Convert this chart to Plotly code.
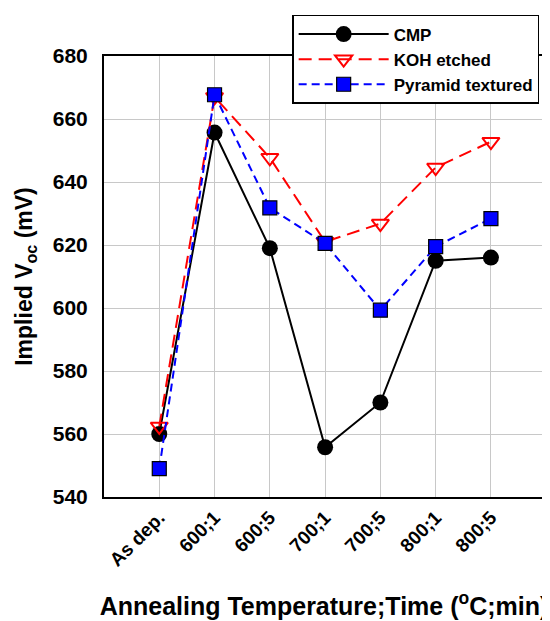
import plotly.graph_objects as go

categories = ["As dep.", "600;1", "600;5", "700;1", "700;5", "800;1", "800;5"]
cmp_vals = [560, 655.7, 619, 555.8, 570, 615, 616]
koh_vals = [562.4, 667, 647.7, 621, 626.8, 644.6, 652.8]
pyr_vals = [549, 667.7, 631.8, 620.5, 599.3, 619.5, 628.4]
y_ticks = [540, 560, 580, 600, 620, 640, 660, 680]

xs = list(range(len(categories)))
FONT = "Liberation Sans, Arial, sans-serif"

fig = go.Figure()
fig.add_trace(go.Scatter(
    x=xs, y=cmp_vals, name="CMP", mode="lines+markers",
    line=dict(color="black", width=2),
    marker=dict(symbol="circle", size=16, color="black"),
))
fig.add_trace(go.Scatter(
    x=xs, y=koh_vals, name="KOH etched", mode="lines+markers",
    line=dict(color="#ff0000", width=2, dash="13px,7px"),
    marker=dict(symbol="triangle-down-open", size=15, color="#ff0000",
                line=dict(width=2, color="#ff0000")),
))
fig.add_trace(go.Scatter(
    x=xs, y=pyr_vals, name="Pyramid textured", mode="lines+markers",
    line=dict(color="#0000ff", width=2, dash="8px,5px"),
    marker=dict(symbol="square", size=14, color="#0000ff",
                line=dict(width=1.2, color="black")),
))

fig.update_layout(
    width=550, height=621,
    margin=dict(l=96, r=14, t=48, b=132, autoexpand=False),
    paper_bgcolor="white", plot_bgcolor="white",
    font=dict(family=FONT, color="black"),
    showlegend=True,
    legend=dict(
        x=0.989, y=1.093, xanchor="right", yanchor="top",
        bordercolor="black", borderwidth=1.5, bgcolor="white",
        font=dict(family=FONT, size=17, color="black", weight="bold"),
        itemwidth=90, tracegroupgap=0,
    ),
    xaxis=dict(
        range=[-1, 6.96],
        tickmode="array", tickvals=xs, ticktext=categories,
        tickangle=-45,
        tickfont=dict(family=FONT, size=19, weight="bold"),
        showgrid=True, gridcolor="#c8c8c8", gridwidth=1,
        showline=True, linecolor="black", linewidth=2, mirror=True,
        ticks="", zeroline=False,
        title=dict(text="Annealing Temperature;Time (<sup>o</sup>C;min)",
                   font=dict(family=FONT, size=25, weight="bold"),
                   standoff=28),
    ),
    yaxis=dict(
        range=[540, 680],
        tickmode="array", tickvals=y_ticks,
        tickfont=dict(family=FONT, size=21, weight="bold"),
        showgrid=True, gridcolor="#c8c8c8", gridwidth=1,
        showline=True, linecolor="black", linewidth=2, mirror=True,
        ticks="", zeroline=False, ticklabelstandoff=10,
        title=dict(text="Implied V<sub>oc</sub> (mV)",
                   font=dict(family=FONT, size=23, weight="bold"),
                   standoff=14),
    ),
)

fig.write_html("out.html")
